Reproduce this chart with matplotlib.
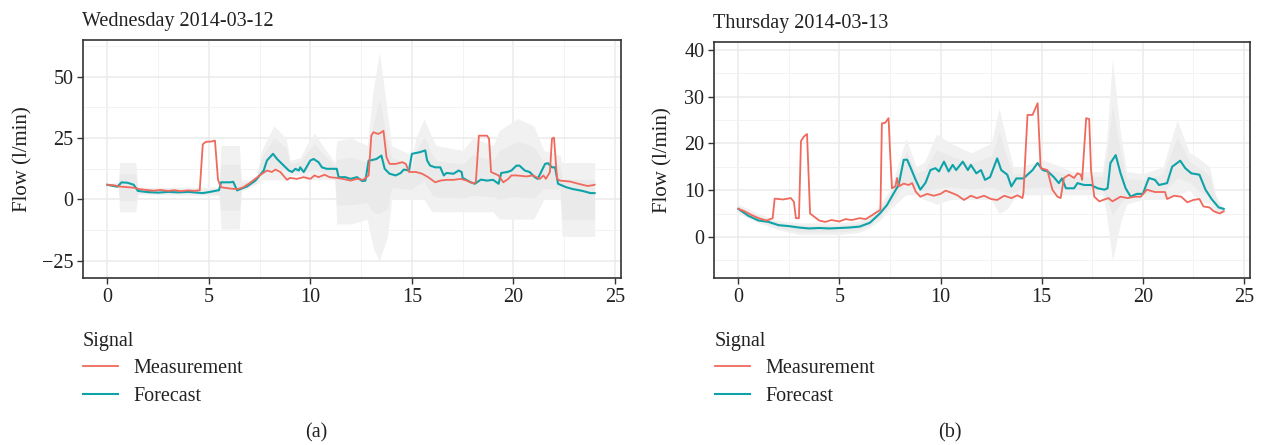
import numpy as np
import matplotlib.pyplot as plt
from matplotlib.lines import Line2D

# two days of flow: measurement, forecast and the grey forecast spread

# ---- Wednesday 2014-03-12 ----
wed_meas_h = [0, 0.3, 0.6, 1.0, 1.3, 1.6, 2.0, 2.3, 2.6, 3.0, 3.3, 3.6, 4.0, 4.3, 4.55, 4.7,
              4.85, 5.1, 5.3, 5.45, 5.6, 6.0, 6.4, 6.7, 7.0, 7.5, 7.86, 8.1, 8.28, 8.52, 8.85,
              9.0, 9.34, 9.67, 10.0, 10.2, 10.4, 10.7, 10.95, 11.3, 11.6, 11.97, 12.3, 12.6,
              12.87, 13.0, 13.1, 13.35, 13.5, 13.6, 13.75, 13.9, 14.2, 14.53, 14.7, 14.86,
              15.2, 15.5, 15.8, 16.15, 16.4, 16.7, 17.05, 17.4, 17.7, 18.0, 18.15, 18.3, 18.7,
              18.8, 18.9, 19.27, 19.5, 19.75, 19.9, 20.15, 20.64, 20.97, 21.3, 21.48, 21.6,
              21.8, 21.9, 22.0, 22.15, 22.3, 22.8, 23.2, 23.5, 23.65, 23.9, 24.0]
wed_meas = [6, 5.8, 5.3, 5, 4.8, 4.2, 3.8, 3.6, 3.9, 3.5, 3.8, 3.4, 3.7, 3.5, 3.8, 22.5,
            23.5, 23.6, 24, 8, 5, 4.5, 4.2, 5.0, 6.6, 9.8, 11.8, 11.2, 12.2, 11.2, 8.0,
            8.8, 8.4, 9.1, 8.4, 9.8, 9.1, 10.1, 9.1, 8.8, 8.4, 7.7, 8.4, 8.0,
            9.8, 26, 27.4, 26.7, 27.4, 28, 17.2, 14.5, 14.5, 15.2, 14.5, 11.2,
            11.2, 10.5, 9.1, 7.0, 7.7, 8.0, 8.0, 8.4, 7.7, 6.6, 7.0, 26, 26,
            24.8, 11.2, 9.8, 7.0, 8.4, 9.8, 9.8, 9.4, 9.8, 8.4, 9.8, 8.4,
            11.2, 24.8, 25.2, 8.4, 7.7, 7.3, 6.4, 5.8, 5.5, 5.8, 6]

wed_fc_h = [0, 0.3, 0.5, 0.7, 1.0, 1.3, 1.5, 2.0, 2.5, 3.0, 3.5, 4.0, 4.4, 4.7, 5.0, 5.3,
            5.5, 5.6, 6.06, 6.2, 6.39, 6.88, 7.29, 7.7, 7.86, 8.16, 8.36, 8.69, 8.94, 9.1,
            9.26, 9.43, 9.5, 9.67, 10.0, 10.16, 10.4, 10.57, 10.8, 11.3, 11.39, 11.72, 11.97,
            12.3, 12.55, 12.71, 12.87, 13.0, 13.25, 13.5, 13.66, 13.9, 14.2, 14.45, 14.6,
            14.86, 15.0, 15.4, 15.66, 15.75, 15.9, 16.15, 16.4, 16.57, 16.7, 17.05, 17.3,
            17.45, 17.5, 17.9, 18.1, 18.4, 18.7, 19.0, 19.27, 19.4, 19.7, 19.9, 20.15, 20.3,
            20.56, 20.8, 21.05, 21.2, 21.4, 21.56, 21.7, 21.9, 22.05, 22.2, 22.6, 22.9, 23.4,
            23.8, 24.0]
wed_fc = [6, 5.5, 5.2, 7, 6.8, 6, 3.5, 3, 2.8, 3.1, 2.9, 3.1, 2.8, 2.6, 3, 3.5,
          3.8, 7, 7.0, 7.2, 3.7, 5.3, 7.7, 11.8, 15.9, 18.6, 16.5, 13.8, 11.8, 11.2,
          12.5, 11.8, 13.1, 11.2, 15.9, 16.5, 15.2, 13.1, 12.5, 12.5, 9.1, 9.1, 8.4,
          9.1, 7.5, 7.7, 15.9, 16, 16.5, 17.9, 12.5, 10.5, 9.8, 10.8, 12.2,
          11.8, 18.6, 19.3, 20, 15.9, 13.8, 13.1, 13.1, 9.8, 10.8, 10.5, 11.8,
          11.2, 8.8, 7.0, 6.4, 8.1, 7.7, 8.0, 6.4, 10.8, 11.2, 11.8, 13.8, 13.8,
          11.8, 11.2, 9.1, 8.4, 11.8, 14.5, 14.8, 13.1, 13.1, 6.4, 5.0, 4.3, 3.5,
          2.6, 2.6]

wed_band_h = [0, 0.55, 0.6, 1.4, 1.5, 5.5, 5.6, 6.5, 6.6, 7.3, 7.6, 8.2, 8.8, 9.0, 9.5, 9.8,
              10.2, 10.6, 11.2, 11.3, 12.0, 12.8, 13.1, 13.4, 13.8, 14.0, 15.0, 15.2, 15.6,
              16.0, 16.2, 17.5, 18.0, 19.0, 19.3, 20.2, 21.0, 21.5, 22.3, 22.4, 24.0]
wed_band_hi = [6.5, 7, 15, 15, 5, 5, 22, 22, 8, 8, 20, 30, 25, 16, 17, 22,
               27, 22, 15, 24, 25, 22, 45, 60, 35, 22, 18, 25, 33,
               25, 22, 20, 25, 22, 28, 33, 30, 20, 18, 15, 15]
wed_band_lo = [5.5, 5, -5, -5, 2, 1.5, -12, -12, 3.5, 6, 8, 8, 8, 10, 10, 8,
               8, 8, 8, -10, -10, -8, -20, -25, -15, 0, 0, 0, 0,
               -5, -5, -5, -5, -5, -8, -8, -8, 0, 0, -15, -15]

# ---- Thursday 2014-03-13 ----
thu_meas_h = [0, 0.3, 0.6, 1.0, 1.4, 1.7, 1.8, 2.2, 2.6, 2.75, 2.85, 3.0, 3.1, 3.25, 3.4, 3.55,
              3.7, 4.0, 4.3, 4.6, 5.0, 5.3, 5.6, 6.0, 6.3, 6.6, 7.03, 7.1, 7.26, 7.43, 7.5,
              7.6, 7.77, 7.85, 7.93, 8.18, 8.42, 8.6, 8.77, 9.0, 9.34, 9.67, 10.0, 10.25, 10.5,
              10.83, 11.16, 11.5, 11.8, 12.15, 12.5, 12.8, 13.15, 13.5, 13.8, 14.05, 14.1,
              14.3, 14.55, 14.8, 14.95, 15.28, 15.53, 15.78, 15.94, 16.1, 16.35, 16.6, 16.77,
              16.93, 17.0, 17.2, 17.35, 17.44, 17.6, 17.85, 18.3, 18.5, 18.9, 19.25, 19.6,
              19.9, 20.2, 20.6, 21.1, 21.2, 21.55, 21.9, 22.2, 22.5, 22.8, 23.0, 23.3, 23.5,
              23.8, 24.0]
thu_meas = [6, 5.5, 4.8, 4, 3.5, 4, 8.2, 8.0, 8.3, 7.5, 4, 4, 20.5, 21.5, 22, 5,
            4.5, 3.5, 3.2, 3.6, 3.3, 3.8, 3.6, 4.0, 3.8, 4.6, 5.8, 24.3, 24.4, 25.4, 18.6,
            10.4, 10.8, 12.6, 10.8, 11.4, 11.1, 11.5, 9.7, 8.6, 9.2, 8.8, 9.2, 9.9, 9.5,
            8.9, 7.9, 8.8, 8.3, 8.8, 8.1, 7.9, 8.8, 8.3, 8.9, 8.3, 9.5,
            26.1, 26.1, 28.6, 14.7, 14.3, 10.1, 8.6, 8.3, 12.6, 13.3, 12.6, 13.6,
            13.3, 12.2, 25.4, 25.2, 14.3, 8.6, 7.6, 8.3, 7.6, 8.6, 8.3, 8.6,
            8.6, 10.1, 9.6, 9.6, 8.1, 8.8, 8.6, 7.4, 7.9, 8.1, 6.5, 6.3, 5.5,
            5.0, 5.5]

thu_fc_h = [0, 0.5, 1.0, 1.5, 2.0, 2.5, 3.0, 3.5, 4.0, 4.5, 5.0, 5.5, 6.0, 6.5, 7.0, 7.35,
            7.68, 7.93, 8.18, 8.35, 8.5, 8.77, 9.0, 9.26, 9.5, 9.75, 9.92, 10.17, 10.4, 10.6,
            10.77, 11.1, 11.35, 11.5, 11.77, 12.0, 12.2, 12.45, 12.8, 13.0, 13.3, 13.5, 13.75,
            14.1, 14.3, 14.55, 14.8, 15.05, 15.3, 15.6, 15.85, 16.0, 16.2, 16.6, 16.77, 17.1,
            17.44, 17.77, 18.1, 18.26, 18.4, 18.66, 18.9, 19.15, 19.4, 19.7, 20.0, 20.3, 20.6,
            20.8, 21.2, 21.45, 21.85, 22.1, 22.4, 22.8, 23.1, 23.4, 23.75, 24.0]
thu_fc = [6, 4.5, 3.5, 3.2, 2.5, 2.3, 2, 1.8, 1.9, 1.8, 1.9, 2.0, 2.2, 3, 5, 6.8,
          9.3, 11.1, 16.5, 16.5, 15.0, 12.2, 10.1, 11.6, 14.3, 14.7, 14.0, 16.1, 14.0, 15.4,
          14.3, 16.1, 14.3, 15.4, 13.6, 14.3, 12.2, 12.8, 16.8, 14.3, 13.3, 10.8, 12.5,
          12.5, 13.3, 14.3, 15.8, 14.3, 14.0, 12.8, 11.5, 12.5, 10.4, 10.4, 11.5, 11.1,
          11.1, 10.4, 10.1, 10.4, 15.8, 17.5, 13.6, 10.4, 8.6, 9.2, 9.2, 12.6, 12.2,
          11.1, 11.5, 15.0, 16.3, 14.7, 13.6, 13.3, 10.1, 8.1, 6.3, 6]

thu_band_h = [0, 1, 2, 3, 4, 5, 6, 6.5, 7.0, 7.5, 8.3, 8.8, 9.2, 9.8, 10.5, 11.5, 12.5,
              12.9, 13.3, 13.6, 14.0, 15.0, 16.0, 16.5, 18.0, 18.2, 18.5, 18.9, 19.2, 20.0,
              21.0, 21.7, 22.3, 22.7, 23.3, 23.6, 24.0]
thu_band_hi = [7, 5, 3.5, 3, 3, 3, 3.5, 4.5, 7, 10, 21, 15, 16, 22, 20, 18, 20,
               27.5, 20, 15, 15, 16.5, 15, 14, 14, 20, 38, 22, 14, 13.5,
               15, 25, 18, 17, 15, 9, 6]
thu_band_lo = [5, 3, 1.5, 0.5, 0.5, 0.5, 1, 2, 3.5, 6, 9, 9, 8, 7, 8, 8, 8,
               5, 6, 8, 9, 9, 9, 9, 9, 5, -5, 3, 7, 8,
               8, 9, 10, 8, 7, 5, 5]

red = '#F0695C'
teal = '#0EA3A8'
ink = '#222222'
plt.rcParams['font.family'] = ['Liberation Serif', 'DejaVu Serif']
plt.rcParams['axes.unicode_minus'] = True

fig = plt.figure(figsize=(12.61, 4.45), dpi=100)

def panel(rect, title, band_h, lo, hi, mh, m, fh, f, ylim, yticks, yminor, ylab_x):
    ax = fig.add_axes(rect)
    lo = np.array(lo, float)
    hi = np.array(hi, float)
    mid = (lo + hi) / 2
    half = (hi - lo) / 2
    # faint outer spread, slightly stronger core
    ax.fill_between(band_h, lo, hi, color='#f1f1f1', lw=0, zorder=1)
    ax.fill_between(band_h, mid - 0.55 * half, mid + 0.55 * half, color='#eaeaea', lw=0, zorder=1)
    ax.plot(fh, f, color=teal, lw=1.5, zorder=2)
    ax.plot(mh, m, color=red, lw=1.3, zorder=3)
    ax.set_xlim(-1.2, 25.3)
    ax.set_ylim(*ylim)
    ax.set_xticks([0, 5, 10, 15, 20, 25])
    ax.set_xticks([2.5, 7.5, 12.5, 17.5, 22.5], minor=True)
    ax.set_yticks(yticks)
    ax.set_yticks(yminor, minor=True)
    ax.grid(which='major', color='#ebebeb', lw=1.1, zorder=0)
    ax.grid(which='minor', color='#f3f3f3', lw=0.7, zorder=0)
    ax.set_axisbelow(True)
    ax.tick_params(which='major', direction='out', length=4, width=1, color='#333333',
                   labelsize=14.5, labelcolor=ink, pad=3)
    ax.tick_params(which='minor', length=0)
    for s in ax.spines.values():
        s.set_color('#333333')
        s.set_linewidth(1.2)
    ax.set_ylabel('Flow (l/min)', fontsize=15, color=ink)
    ax.yaxis.set_label_coords(ylab_x, 0.5)
    ax.set_title(title, loc='left', fontsize=14.5, color=ink, pad=10, x=-0.002)
    return ax

ax1 = panel([83 / 1261, 167 / 445, 538 / 1261, 238 / 445], 'Wednesday 2014-03-12',
            wed_band_h, wed_band_lo, wed_band_hi, wed_meas_h, wed_meas, wed_fc_h, wed_fc,
            (-32, 65), [-25, 0, 25, 50], [-12.5, 12.5, 37.5, 62.5], -0.093)
ax2 = panel([714 / 1261, 167 / 445, 536 / 1261, 236 / 445], 'Thursday 2014-03-13',
            thu_band_h, thu_band_lo, thu_band_hi, thu_meas_h, thu_meas, thu_fc_h, thu_fc,
            (-8.8, 41.7), [0, 10, 20, 30, 40], [-5, 5, 15, 25, 35], -0.077)

handles = [Line2D([], [], color=red, lw=1.3), Line2D([], [], color=teal, lw=1.5)]
for x0 in (83 / 1261, 715 / 1261):
    leg = fig.legend(handles, ['Measurement', 'Forecast'], title='Signal',
                     loc='upper left', bbox_to_anchor=(x0, 1 - 332 / 445), frameon=False,
                     fontsize=14.5, title_fontsize=14.5, handlelength=1.75, handletextpad=0.75,
                     labelspacing=0.42, borderpad=0, borderaxespad=0, alignment='left')
    leg.get_title().set_color(ink)
    leg._legend_box.sep = 6
    for t in leg.get_texts():
        t.set_color(ink)

fig.text(316 / 1261, 1 - 433 / 445, '(a)', ha='center', va='center', fontsize=14.5, color=ink)
fig.text(950 / 1261, 1 - 433 / 445, '(b)', ha='center', va='center', fontsize=14.5, color=ink)

fig.savefig('out.png', dpi=100)
